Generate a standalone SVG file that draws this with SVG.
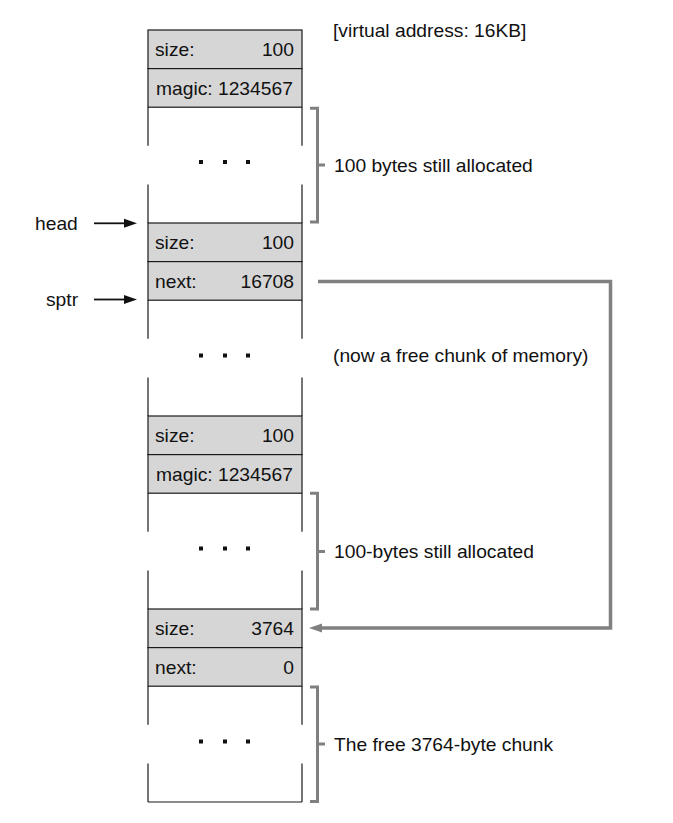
<svg xmlns="http://www.w3.org/2000/svg" width="673" height="823" viewBox="0 0 673 823">
<style>
  text { font-family: "Liberation Sans", Arial, sans-serif; font-size: 17.5px; fill: #111; }
  .end { text-anchor: end; }
  .cell { fill: #d6d6d6; stroke: #1a1a1a; stroke-width: 1.2; }
  .side { stroke: #1a1a1a; stroke-width: 1.2; fill: none; }
  .dot { fill: #111; }
  .brk { fill: none; stroke: #808080; stroke-width: 3; stroke-linejoin: miter; }
  .conn { fill: none; stroke: #808080; stroke-width: 3.5; stroke-linejoin: miter; }
  .ptr { stroke: #111; stroke-width: 1.8; }
</style>
<defs>
  <marker id="ahBlack" markerUnits="userSpaceOnUse" markerWidth="13" markerHeight="10" refX="0" refY="5" orient="auto">
    <path d="M0,0.5 L13,5 L0,9.5 z" fill="#111"/>
  </marker>
  <marker id="ahGray" markerUnits="userSpaceOnUse" markerWidth="14" markerHeight="10" refX="0" refY="5" orient="auto">
    <path d="M0,0.5 L13,5 L0,9.5 z" fill="#808080"/>
  </marker>
</defs>

<rect width="673" height="823" fill="#fff"/>

<!-- chunk 1 header (allocated) -->
<g id="row-size-1">
  <rect class="cell" x="148" y="30" width="154" height="38.6"/>
  <text transform="translate(155,56) scale(1.1 1)">size:</text>
  <text class="end" transform="translate(294,56) scale(1.1 1)">100</text>
</g>
<g id="row-magic-1">
  <rect class="cell" x="148" y="68.6" width="154" height="38.6"/>
  <text transform="translate(156,94.6) scale(1.1 1)">magic: 1234567</text>
</g>
<g id="body-1">
  <path class="side" d="M148,107.2 V145.8 M302,107.2 V145.8 M148,184.4 V223 M302,184.4 V223"/>
  <rect class="dot" x="199" y="160" width="4" height="4"/>
  <rect class="dot" x="223" y="160" width="4" height="4"/>
  <rect class="dot" x="246" y="160" width="4" height="4"/>
</g>

<!-- chunk 2 header (free) -->
<g id="row-size-2">
  <rect class="cell" x="148" y="223" width="154" height="38.6"/>
  <text transform="translate(155,249) scale(1.1 1)">size:</text>
  <text class="end" transform="translate(294,249) scale(1.1 1)">100</text>
</g>
<g id="row-next-2">
  <rect class="cell" x="148" y="261.6" width="154" height="38.6"/>
  <text transform="translate(155,287.6) scale(1.1 1)">next:</text>
  <text class="end" transform="translate(294,287.6) scale(1.1 1)">16708</text>
</g>
<g id="body-2">
  <path class="side" d="M148,300.2 V338.8 M302,300.2 V338.8 M148,377.4 V416 M302,377.4 V416"/>
  <rect class="dot" x="199" y="353.5" width="4" height="4"/>
  <rect class="dot" x="223" y="353.5" width="4" height="4"/>
  <rect class="dot" x="246" y="353.5" width="4" height="4"/>
</g>

<!-- chunk 3 header (allocated) -->
<g id="row-size-3">
  <rect class="cell" x="148" y="416" width="154" height="38.6"/>
  <text transform="translate(155,442) scale(1.1 1)">size:</text>
  <text class="end" transform="translate(294,442) scale(1.1 1)">100</text>
</g>
<g id="row-magic-3">
  <rect class="cell" x="148" y="454.6" width="154" height="38.6"/>
  <text transform="translate(156,480.6) scale(1.1 1)">magic: 1234567</text>
</g>
<g id="body-3">
  <path class="side" d="M148,493.2 V531.8 M302,493.2 V531.8 M148,570.4 V609 M302,570.4 V609"/>
  <rect class="dot" x="199" y="546.5" width="4" height="4"/>
  <rect class="dot" x="223" y="546.5" width="4" height="4"/>
  <rect class="dot" x="246" y="546.5" width="4" height="4"/>
</g>

<!-- chunk 4 header (free) -->
<g id="row-size-4">
  <rect class="cell" x="148" y="609" width="154" height="38.6"/>
  <text transform="translate(155,635) scale(1.1 1)">size:</text>
  <text class="end" transform="translate(294,635) scale(1.1 1)">3764</text>
</g>
<g id="row-next-4">
  <rect class="cell" x="148" y="647.6" width="154" height="38.6"/>
  <text transform="translate(155,673.6) scale(1.1 1)">next:</text>
  <text class="end" transform="translate(294,673.6) scale(1.1 1)">0</text>
</g>
<g id="body-4">
  <path class="side" d="M148,686.2 V724.8 M302,686.2 V724.8 M148,763.4 V802 M302,763.4 V802 M148,802 H302"/>
  <rect class="dot" x="199" y="739.5" width="4" height="4"/>
  <rect class="dot" x="223" y="739.5" width="4" height="4"/>
  <rect class="dot" x="246" y="739.5" width="4" height="4"/>
</g>

<!-- brackets and labels -->
<g id="label-vaddr">
  <text transform="translate(333,36.5) scale(1.1 1)">[virtual address: 16KB]</text>
</g>
<g id="bracket-1">
  <path class="brk" d="M310,108.2 H317.5 V222 H310 M317.5,165 H325"/>
  <text transform="translate(334,171.5) scale(1.1 1)">100 bytes still allocated</text>
</g>
<g id="label-free">
  <text transform="translate(333,362) scale(1.1 1)">(now a free chunk of memory)</text>
</g>
<g id="bracket-3">
  <path class="brk" d="M310,493.2 H317.5 V609 H310 M317.5,551.5 H325"/>
  <text transform="translate(334,557.5) scale(1.1 1)">100-bytes still allocated</text>
</g>
<g id="bracket-4">
  <path class="brk" d="M310,687 H317.5 V801.5 H310 M317.5,744 H325"/>
  <text transform="translate(334,750.5) scale(1.1 1)">The free 3764-byte chunk</text>
</g>

<g id="label-head">
  <text transform="translate(35,230) scale(1.1 1)">head</text>
</g>
<g id="label-sptr">
  <text transform="translate(46,306) scale(1.1 1)">sptr</text>
</g>

<!-- connectors -->
<g id="connectors">
  <line class="ptr" x1="94" y1="223.3" x2="124" y2="223.3" marker-end="url(#ahBlack)"/>
  <line class="ptr" x1="94" y1="299.5" x2="124" y2="299.5" marker-end="url(#ahBlack)"/>
  <path class="conn" d="M318,281.5 H610.5 V628 H322" marker-end="url(#ahGray)"/>
</g>
</svg>
